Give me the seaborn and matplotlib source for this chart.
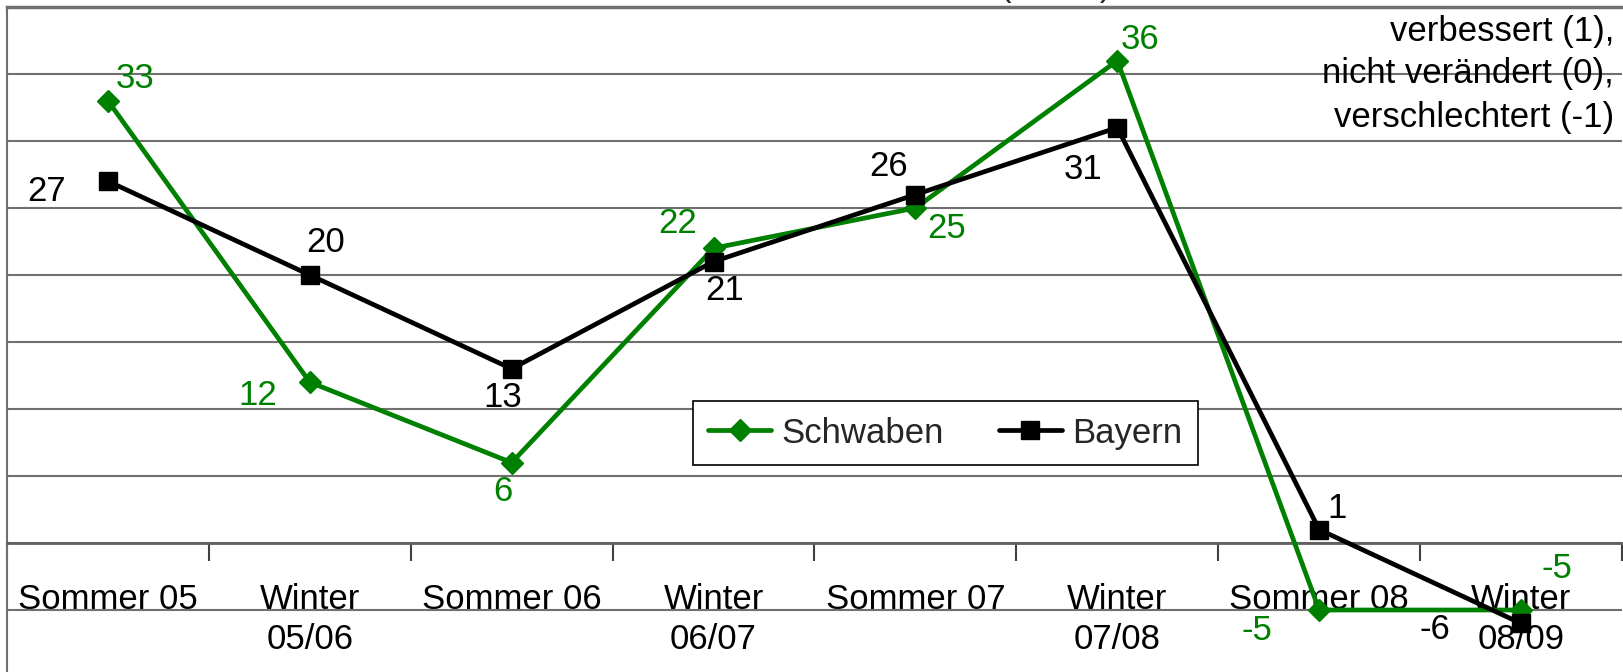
import matplotlib
matplotlib.use("Agg")
import matplotlib.pyplot as plt
import numpy as np
import pandas as pd
import seaborn as sns

# chart data
categories = ["Sommer 05", "Winter\n05/06", "Sommer 06", "Winter\n06/07",
              "Sommer 07", "Winter\n07/08", "Sommer 08", "Winter\n08/09"]
schwaben = [33, 12, 6, 22, 25, 36, -5, -5]
bayern = [27, 20, 13, 21, 26, 31, 1, -6]
right_note = ["verbessert (1),", "nicht verändert (0),", "verschlechtert (-1)"]

# label offsets in pixels (dx, dy), picked by eye from the reference
schwaben_off = [(27, 22), (-52, -13), (-9, -29), (-36, 25), (31, -20), (23, 21), (-62, -20), (36, 42)]
bayern_off = [(-61, -10), (16, 33), (-9, -29), (11, -29), (-27, 28), (-34, -42), (18, 21), (-86, -6)]

green = "#008000"
grid_grey = "#707070"

df = pd.concat([
    pd.DataFrame({"pos": np.arange(len(categories)), "value": schwaben, "region": "Schwaben"}),
    pd.DataFrame({"pos": np.arange(len(categories)), "value": bayern, "region": "Bayern"}),
])

sns.set_theme(style="white")
plt.rcParams["font.family"] = ["Liberation Sans", "DejaVu Sans"]

fig = plt.figure(figsize=(16.24, 6.72), dpi=100)
ax = fig.add_axes([7 / 1624, -5 / 672, 1615 / 1624, 670 / 672])

sns.lineplot(data=df, x="pos", y="value", hue="region", style="region",
             hue_order=["Schwaben", "Bayern"], style_order=["Schwaben", "Bayern"],
             palette={"Schwaben": green, "Bayern": "black"},
             markers={"Schwaben": "D", "Bayern": "s"}, dashes=False,
             legend=False, ax=ax, zorder=5)
# seaborn sets its own sizes, so fix them on the lines afterwards
for ln in ax.lines:
    ln.set_markeredgecolor(ln.get_color())
    ln.set_markeredgewidth(1)
    ln.set_linewidth(3.4)
    ln.set_clip_on(False)
ax.lines[0].set_markersize(11)
ax.lines[1].set_markersize(13.5)

# value labels
for i, v in enumerate(schwaben):
    ax.annotate(str(v), (i, v), xytext=schwaben_off[i], textcoords="offset pixels",
                ha="center", va="center", fontsize=25, color=green, zorder=6)
for i, v in enumerate(bayern):
    ax.annotate(str(v), (i, v), xytext=bayern_off[i], textcoords="offset pixels",
                ha="center", va="center", fontsize=25, color="black", zorder=6)

ax.set_xlim(-0.5, len(categories) - 0.5)
ax.set_ylim(-10, 40)
ax.set_xlabel("")
ax.set_ylabel("")

# horizontal grid
ax.set_yticks(np.arange(-10, 41, 5))
ax.yaxis.grid(True, color=grid_grey, linewidth=1.5)
ax.tick_params(axis="y", left=False, labelleft=False)

# category axis sits on the zero line
ax.spines["bottom"].set_position(("data", 0))
ax.spines["bottom"].set_color("#606060")
ax.spines["bottom"].set_linewidth(2)
ax.spines["left"].set_color(grid_grey)
ax.spines["left"].set_linewidth(1.5)
ax.spines["top"].set_color(grid_grey)
ax.spines["top"].set_linewidth(2.5)
ax.spines["right"].set_visible(False)

ax.set_xticks(np.arange(len(categories)))
ax.set_xticklabels(categories, fontsize=25, linespacing=1.25)
ax.set_xticks(np.arange(-0.5, len(categories) + 0.5, 1), minor=True)
ax.tick_params(axis="x", which="major", length=0, pad=29, colors="black")
ax.tick_params(axis="x", which="minor", length=13, width=1.5, direction="out",
               color="#404040", bottom=True)

leg = ax.legend(handles=ax.lines[:2], labels=["Schwaben", "Bayern"], ncol=2,
                loc="center", bbox_to_anchor=(0.581, 0.364), fontsize=25,
                frameon=True, fancybox=False, handlelength=1.8, handletextpad=0.3,
                columnspacing=1.6, borderpad=0.45)
leg.get_frame().set_edgecolor("black")
leg.get_frame().set_linewidth(1.2)
leg.get_frame().set_alpha(1)
leg.set_zorder(10)

# note at the top right
for k, line in enumerate(right_note):
    fig.text(1614 / 1624, 1 - (31 + 43 * k) / 672, line, ha="right", va="center",
             fontsize=25, color="black")

# title, only its lower edge shows
fig.text(1056 / 1624, 1 + 4 / 672, "(Saldo)", ha="center", va="baseline", fontsize=25)

fig.savefig("out.png", dpi=100)
